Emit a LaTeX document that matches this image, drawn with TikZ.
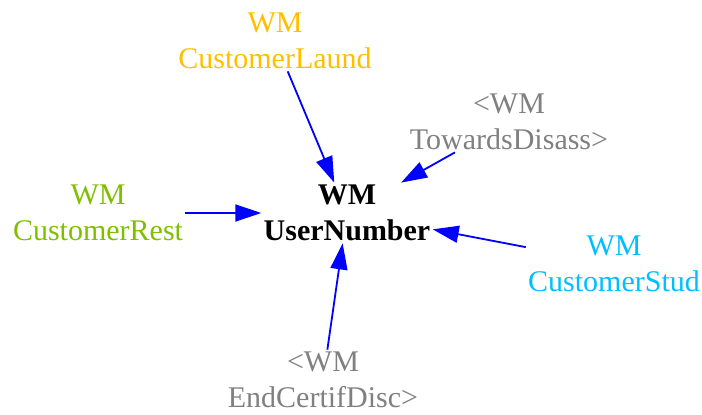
\documentclass[tikz,border=0pt]{standalone}
\usepackage{fontspec}
\setmainfont{Liberation Serif}
\usepackage{tikz}
\usetikzlibrary{arrows.meta,positioning}
\definecolor{laundc}{HTML}{FFBF00}
\definecolor{restc}{HTML}{7FBF00}
\definecolor{studc}{HTML}{00BFFF}
\definecolor{refc}{HTML}{808080}
\begin{document}
\begin{tikzpicture}[
    x=0.5pt, y=0.5pt,
    var/.style={rectangle, inner sep=1pt, align=center, font=\fontsize{15}{18}\selectfont},
    arrow/.style={-{Triangle[length=13pt, width=8.5pt]}, line width=0.9pt, draw=blue, fill=blue}
]
\useasboundingbox (0,0) rectangle (702,414);
\node[var, font=\fontsize{15}{18}\selectfont\bfseries] (user) at (347,201) {WM\\UserNumber};
\node[var, text=laundc] (laund) at (275,373) {WM\\CustomerLaund};
\node[var, text=refc] (disass) at (509,292) {<WM\\TowardsDisass>};
\node[var, text=restc] (rest) at (98,201) {WM\\CustomerRest};
\node[var, text=studc] (stud) at (614,150) {WM\\CustomerStud};
\node[var, text=refc] (endcert) at (323,34) {<WM\\EndCertifDisc>};

\draw[arrow] (laund) -- (user);
\draw[arrow] (disass) -- (user);
\draw[arrow] (rest) -- (user);
\draw[arrow] (stud) -- (user);
\draw[arrow] (endcert) -- (user);
\end{tikzpicture}
\end{document}
